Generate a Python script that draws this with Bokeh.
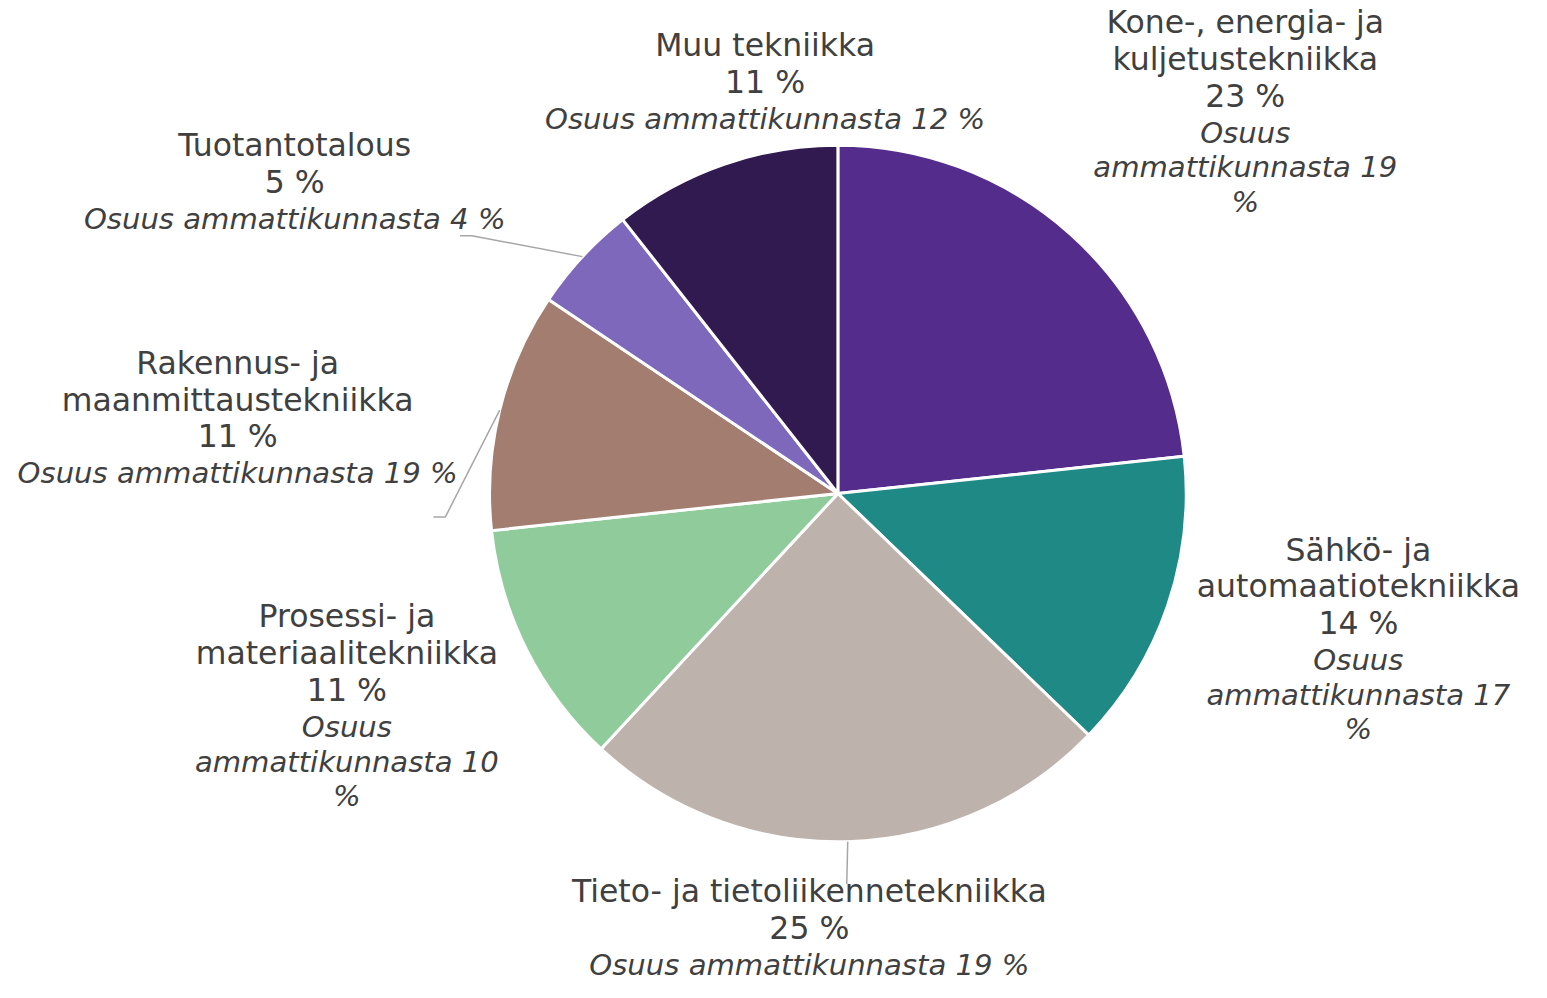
import math
from bokeh.plotting import figure
from bokeh.models import Range1d, ColumnDataSource
from bokeh.core.properties import value
from bokeh.embed import file_html
from bokeh.resources import INLINE

# ---- data ----
categories = [
    "Kone-, energia- ja kuljetustekniikka",
    "Sähkö- ja automaatiotekniikka",
    "Tieto- ja tietoliikennetekniikka",
    "Prosessi- ja materiaalitekniikka",
    "Rakennus- ja maanmittaustekniikka",
    "Tuotantotalous",
    "Muu tekniikka",
]
values = [23.3, 13.9, 24.7, 11.4, 11.1, 5.0, 10.6]
pct_labels = ["23 %", "14 %", "25 %", "11 %", "11 %", "5 %", "11 %"]
share_labels = [19, 17, 19, 10, 19, 4, 12]
colors = ["#542D8C", "#1E8985", "#BEB2AD", "#90CC9B", "#A37D70", "#7E68BC", "#311A50"]

# ---- layout ----
W, H = 1531, 982
S = 0.984                      # px per layout unit
CX, CY, R = 851, 501, 354      # layout units
name_breaks = [
    ["Kone-, energia- ja", "kuljetustekniikka"],
    ["Sähkö- ja", "automaatiotekniikka"],
    ["Tieto- ja tietoliikennetekniikka"],
    ["Prosessi- ja", "materiaalitekniikka"],
    ["Rakennus- ja", "maanmittaustekniikka"],
    ["Tuotantotalous"],
    ["Muu tekniikka"],
]
share_wrap = [True, True, False, True, False, False, False]
anchors = [(1265, 22), (1380, 558), (822, 905), (352, 626), (241, 368), (299, 147), (777, 45)]
leader_ends = {2: [(860, 898)], 4: [(452, 525), (440, 525)], 5: [(479, 239), (467, 239)]}

def dx(x):
    return x - CX

def dy(y):
    return CY - y

p = figure(width=W, height=H, output_backend="svg", toolbar_location=None,
           x_range=Range1d(dx(0), dx(W / S)), y_range=Range1d(dy(H / S), dy(0)),
           min_border=0)
p.axis.visible = False
p.grid.visible = False
p.outline_line_color = None
p.background_fill_color = "white"
p.border_fill_color = "white"

total = sum(values)
starts, ends, mids = [], [], []
cum = 0.0
for v in values:
    a0 = math.pi / 2 - 2 * math.pi * cum / total
    cum += v
    a1 = math.pi / 2 - 2 * math.pi * cum / total
    starts.append(a0)
    ends.append(a1)
    mids.append((a0 + a1) / 2)

src = ColumnDataSource(dict(start=starts, end=ends, color=colors, cat=categories, val=values))
p.wedge(x=0, y=0, radius=R, start_angle="start", end_angle="end", direction="clock",
        fill_color="color", line_color="white", line_width=3, source=src)

# leader lines
for i, pts in leader_ends.items():
    xs = [R * math.cos(mids[i])] + [dx(px) for px, py in pts]
    ys = [R * math.sin(mids[i])] + [dy(py) for px, py in pts]
    p.line(xs, ys, line_color="#A6A6A6", line_width=1.5)

# labels
reg_x, reg_y, reg_t = [], [], []
it_x, it_y, it_t = [], [], []
REG_STEP, IT_STEP = 37.5, 35
for i in range(len(categories)):
    ax, ay = anchors[i]
    y = ay
    for ln in name_breaks[i] + [pct_labels[i]]:
        reg_x.append(dx(ax)); reg_y.append(dy(y)); reg_t.append(ln)
        y += REG_STEP
    if share_wrap[i]:
        lines = ["Osuus", "ammattikunnasta %d" % share_labels[i], "%"]
    else:
        lines = ["Osuus ammattikunnasta %d %%" % share_labels[i]]
    for ln in lines:
        it_x.append(dx(ax)); it_y.append(dy(y)); it_t.append(ln)
        y += IT_STEP

p.text(x=reg_x, y=reg_y, text=reg_t, text_align="center", text_baseline="middle",
       text_font=value("DejaVu Sans"), text_font_size="%.1fpx" % (32 * S), text_color="#404040")
p.text(x=it_x, y=it_y, text=it_t, text_align="center", text_baseline="middle",
       text_font=value("DejaVu Sans"), text_font_style="italic",
       text_font_size="%.1fpx" % (29.6 * S), text_color="#404040")

open("out.html", "w").write(file_html(p, INLINE))
